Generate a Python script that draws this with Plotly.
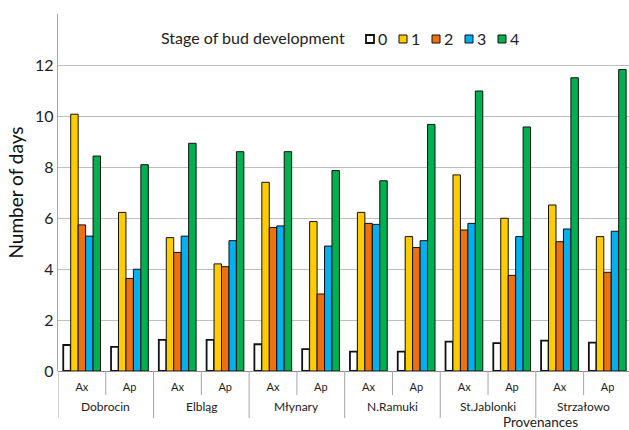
import plotly.graph_objects as go

# Days spent in each stage of bud development, per provenance and shoot type
provenances = ["Dobrocin", "Elbląg", "Młynary", "N.Ramuki", "St.Jablonki", "Strzałowo"]
shoot_types = ["Ax", "Ap"]
stages = ["0", "1", "2", "3", "4"]

stage0 = [1.02, 0.95, 1.22, 1.22, 1.05, 0.86, 0.76, 0.76, 1.15, 1.09, 1.19, 1.11]
stage1 = [10.07, 6.22, 5.23, 4.20, 7.40, 5.86, 6.22, 5.27, 7.69, 5.99, 6.51, 5.27]
stage2 = [5.73, 3.63, 4.65, 4.09, 5.63, 3.02, 5.79, 4.84, 5.53, 3.75, 5.07, 3.87]
stage3 = [5.29, 3.99, 5.29, 5.11, 5.69, 4.90, 5.75, 5.11, 5.79, 5.27, 5.57, 5.48]
stage4 = [8.43, 8.09, 8.93, 8.60, 8.60, 7.86, 7.46, 9.67, 10.98, 9.57, 11.50, 11.82]

y_ticks = [0, 2, 4, 6, 8, 10, 12]

series = [stage0, stage1, stage2, stage3, stage4]
fill_colors = ["#FFFFFF", "#FFCC00", "#EE7010", "#00B0F0", "#00B050"]
edge_widths = [1.8, 1, 1, 1, 1]

FONT = "Lato, 'Open Sans', sans-serif"

categories = [f"{p} {t}" for p in provenances for t in shoot_types]
tick_text = [t for p in provenances for t in shoot_types]

fig = go.Figure()
for name, vals, col, lw in zip(stages, series, fill_colors, edge_widths):
    fig.add_trace(go.Bar(
        x=categories, y=vals, name=name,
        marker=dict(color=col, line=dict(color="#111111", width=lw)),
        showlegend=False,
    ))

W, H = 629, 430
ML, MR, MT, MB = 58, 0, 14, 59
plot_w = W - ML - MR
plot_h = H - MT - MB


def py(pix):
    """Pixel row -> paper y."""
    return (H - MB - pix) / plot_h


def px(pix):
    """Pixel column -> paper x."""
    return (pix - ML) / plot_w


shapes = []
annotations = []

# Category dividers below the axis: short between shoot types, long between provenances
for k in range(len(categories) + 1):
    outer = (k % 2 == 0)
    shapes.append(dict(
        type="line", xref="x", yref="paper",
        x0=k - 0.5, x1=k - 0.5, y0=0, y1=py(418 if outer else 395),
        line=dict(color="#A6A6A6", width=1),
    ))

# Provenance labels centred under their pair of bars
for i, p in enumerate(provenances):
    annotations.append(dict(
        x=2 * i + 0.5, xref="x", y=py(406), yref="paper",
        text=p, showarrow=False, font=dict(family=FONT, size=12, color="#222222"),
        xanchor="center", yanchor="middle",
    ))

annotations.append(dict(
    x=px(540), xref="paper", y=py(422), yref="paper",
    text="Provenances", showarrow=False,
    font=dict(family=FONT, size=13.5, color="#222222"),
    xanchor="center", yanchor="middle",
))

# Legend drawn as a row of small swatches with labels
annotations.append(dict(
    x=px(159), xref="paper", y=py(38), yref="paper",
    text="Stage of bud development", showarrow=False,
    font=dict(family=FONT, size=16, color="#222222"),
    xanchor="left", yanchor="middle",
))
sw_start, sw_step, sw_size = 366, 33, 8
for j, (name, col) in enumerate(zip(stages, fill_colors)):
    x0 = sw_start + j * sw_step
    shapes.append(dict(
        type="rect", xref="paper", yref="paper",
        x0=px(x0), x1=px(x0 + sw_size), y0=py(43), y1=py(35),
        fillcolor=col, line=dict(color="#111111", width=1.8 if j == 0 else 1),
    ))
    annotations.append(dict(
        x=px(x0 + sw_size + 2), xref="paper", y=py(39), yref="paper",
        text=name, showarrow=False,
        font=dict(family=FONT, size=16, color="#222222"),
        xanchor="left", yanchor="middle",
    ))

fig.update_layout(
    width=W, height=H,
    margin=dict(l=ML, r=MR, t=MT, b=MB),
    paper_bgcolor="white", plot_bgcolor="white",
    barmode="group", bargap=0.22, bargroupgap=0,
    font=dict(family=FONT, color="#222222"),
    shapes=shapes, annotations=annotations,
    xaxis=dict(
        type="category", categoryorder="array", categoryarray=categories,
        tickvals=categories, ticktext=tick_text,
        range=[-0.5, len(categories) - 0.55],
        showgrid=False, showline=False, ticks="",
        tickfont=dict(family=FONT, size=11, color="#222222"),
        ticklabelstandoff=8,
    ),
    yaxis=dict(
        range=[0, 14],
        tickvals=y_ticks + [14], ticktext=[str(v) for v in y_ticks] + [""],
        showgrid=True, gridcolor="#BFBFBF", gridwidth=1.3,
        zeroline=True, zerolinecolor="#8C8C8C", zerolinewidth=1.3,
        showline=True, linecolor="#A6A6A6", linewidth=1.3,
        ticks="", tickfont=dict(family=FONT, size=16, color="#222222"),
        title=dict(text="Number of days", font=dict(family=FONT, size=19, color="#111111"), standoff=6),
    ),
)

fig.write_html("out.html")
